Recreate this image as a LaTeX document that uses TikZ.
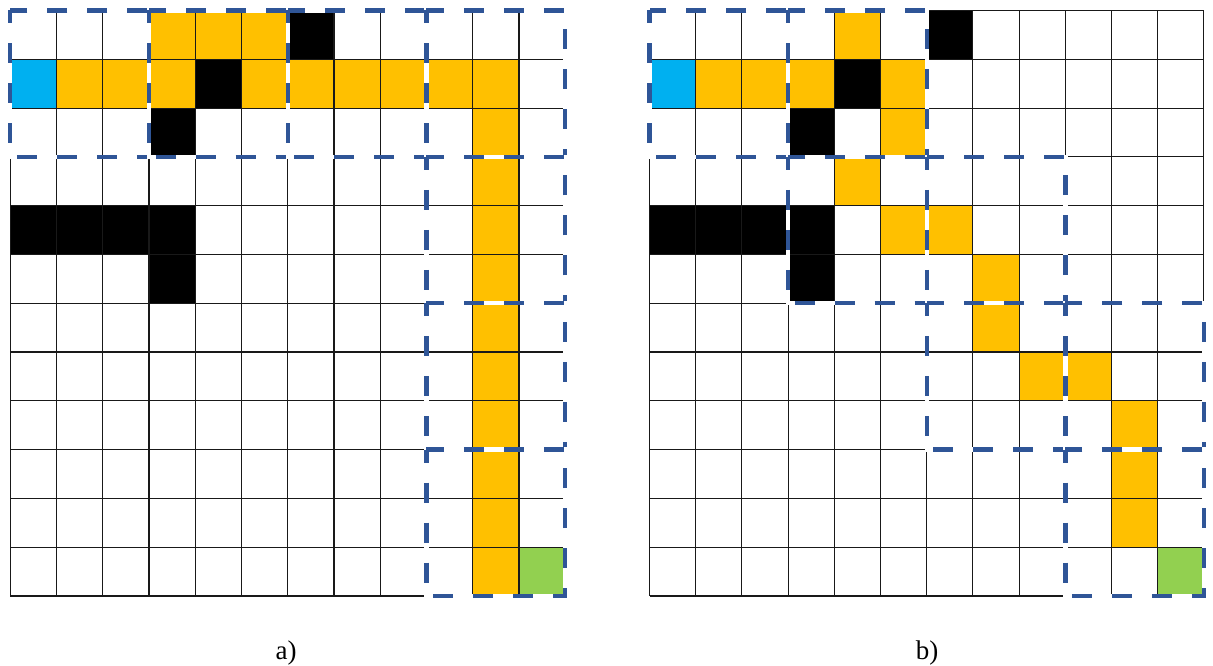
\documentclass[tikz,border=0pt]{standalone}
\usepackage{fontspec}
\setmainfont{Liberation Serif}
\definecolor{pathyellow}{HTML}{FFC000}
\definecolor{startblue}{HTML}{00B0F0}
\definecolor{goalgreen}{HTML}{92D050}
\definecolor{dashblue}{HTML}{2F5597}
\tikzset{
  yellowcell/.style={fill=pathyellow},
  blackcell/.style={fill=black},
  startcell/.style={fill=startblue},
  goalcell/.style={fill=goalgreen},
  gridline/.style={draw=black!90, line width=1.1pt},
  blockunder/.style={draw=white, line width=4.4pt},
  blockdash/.style={draw=dashblue, line width=4.4pt, dash pattern=on 20pt off 20pt, dash phase=7pt},
  lbl/.style={font=\fontsize{27}{30}\selectfont, inner sep=0pt, anchor=base}
}
\begin{document}
\begin{tikzpicture}[x=1pt,y=-1pt]
\useasboundingbox (0,0) rectangle (1213,666);
% ---------------- grid a) ----------------
\begin{scope}[shift={(10.2pt,-10.5pt)}, x=46.25pt, y=-48.79pt]
  \fill[startcell] (0,1) rectangle ++(1,1);
  \fill[goalcell] (11,11) rectangle ++(1,1);
  \foreach \c/\r in {3/0,4/0,5/0,1/1,2/1,3/1,5/1,6/1,7/1,8/1,9/1,10/1,10/2,10/3,10/4,10/5,10/6,10/7,10/8,10/9,10/10,10/11}
    \fill[yellowcell] (\c,\r) rectangle ++(1,1);
  \foreach \c/\r in {6/0,4/1,3/2,0/4,1/4,2/4,3/4,3/5}
    \fill[blackcell] (\c,\r) rectangle ++(1,1);
  \foreach \i in {0,...,12} {
    \draw[gridline] (\i,0) -- (\i,12);
    \draw[gridline] (0,\i) -- (12,\i);
  }
  \foreach \bx/\by in {0/0,1/0,2/0,3/0,3/1,3/2,3/3} {
    \draw[blockunder] (3*\bx,3*\by) rectangle ++(3,3);
    \draw[blockdash] (3*\bx,3*\by) rectangle ++(3,3);
  }
\end{scope}
% ---------------- grid b) ----------------
\begin{scope}[shift={(649.5pt,-10.5pt)}, x=46.2pt, y=-48.79pt]
  \fill[startcell] (0,1) rectangle ++(1,1);
  \fill[goalcell] (11,11) rectangle ++(1,1);
  \foreach \c/\r in {4/0,1/1,2/1,3/1,5/1,5/2,4/3,5/4,6/4,7/5,7/6,8/7,9/7,10/8,10/9,10/10}
    \fill[yellowcell] (\c,\r) rectangle ++(1,1);
  \foreach \c/\r in {6/0,4/1,3/2,0/4,1/4,2/4,3/4,3/5}
    \fill[blackcell] (\c,\r) rectangle ++(1,1);
  \foreach \i in {0,...,12} {
    \draw[gridline] (\i,0) -- (\i,12);
    \draw[gridline] (0,\i) -- (12,\i);
  }
  \foreach \bx/\by in {0/0,1/0,1/1,2/1,2/2,3/2,3/3} {
    \draw[blockunder] (3*\bx,3*\by) rectangle ++(3,3);
    \draw[blockdash] (3*\bx,3*\by) rectangle ++(3,3);
  }
\end{scope}
\node[lbl] (la) at (286,659) {a)};
\node[lbl] (lb) at (927,659) {b)};
\end{tikzpicture}
\end{document}
